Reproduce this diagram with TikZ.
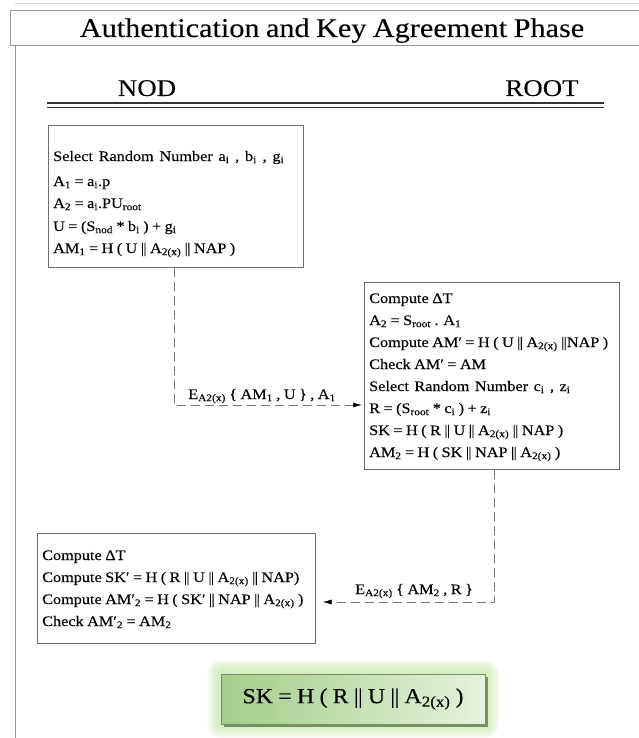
\documentclass[tikz,border=0pt]{standalone}
\usepackage{fontspec}
\setmainfont{Liberation Serif}[FakeStretch=1.12, FakeBold=0.12, WordSpace=0.85]
\usetikzlibrary{arrows.meta,backgrounds}
\newcommand\ssb[1]{\textsubscript{#1}}
\newcommand\dbar{|\kern-0.7pt|}
\definecolor{frameg}{RGB}{150,150,150}
\definecolor{boxg}{RGB}{110,110,110}
\definecolor{dashg}{RGB}{120,120,120}
\definecolor{gleft}{RGB}{164,206,136}
\definecolor{gright}{RGB}{230,241,222}
\definecolor{gedge}{RGB}{120,145,100}
\definecolor{glow}{RGB}{190,225,160}
\tikzset{
  frame/.style={draw=frameg, line width=0.7pt},
  stepbox/.style={draw=boxg, line width=0.7pt, fill=white, inner sep=0pt, anchor=north west},
  txt/.style={font=\fontsize{14.5}{16}\selectfont, inner sep=0pt, anchor=base west},
  lbl/.style={font=\fontsize{14.5}{16}\selectfont, inner sep=0pt, anchor=base},
  party/.style={font=\fontsize{24}{27}\selectfont, inner sep=0pt, anchor=base},
  msg/.style={draw=dashg, line width=0.7pt, dash pattern=on 9pt off 5pt},
  tipk/.style={-{Latex[color=black,length=9pt,width=5pt]}},
}
\begin{document}
\begin{tikzpicture}[x=1pt,y=-1pt]
\useasboundingbox (0,0) rectangle (639,738);
\clip (0,0) rectangle (639,738);
% frame
\draw[frame, draw=black!15] (15,3) -- (639,3);
\draw[frame] (15,45) -- (15,738);
\node[stepbox, draw=frameg, minimum width=640pt, minimum height=35pt] (tb) at (10,10) {};
\node[font=\fontsize{27}{30}\selectfont, inner sep=0pt, anchor=base] (title) at (332,37) {Authentication and Key Agreement Phase};
% parties
\node[party] (nodlbl) at (147,96) {NOD};
\node[party] (rootlbl) at (542,96) {ROOT};
\draw[line width=1.6pt, black!80] (47,103) coordinate (dl1) -- (604,103) coordinate (dl2);
\draw[line width=0.8pt, black!80] (47,107.5) coordinate (dl3) -- (604,107.5) coordinate (dl4);
% NOD box
\node[stepbox, minimum width=255pt, minimum height=142pt] (nod) at (48,125) {};
\node[txt] (n1) at (53,161) {\spaceskip=5.8pt plus 1pt Select Random Number a\ssb{i} , b\ssb{i} , g\ssb{i}};
\node[txt] (n2) at (53,186) {A\ssb{1} = a\ssb{i}.p};
\node[txt] (n3) at (53,208) {A\ssb{2} = a\ssb{i}.PU\ssb{root}};
\node[txt] (n4) at (53,231) {U = (S\ssb{nod} * b\ssb{i} ) + g\ssb{i}};
\node[txt] (n5) at (53,253) {AM\ssb{1} = H ( U \dbar{} A\ssb{2(x)} \dbar{} NAP )};
% ROOT box
\node[stepbox, minimum width=255pt, minimum height=187pt] (root) at (364,282) {};
\node[txt] (r1) at (369,303) {Compute ΔT};
\node[txt] (r2) at (369,325) {A\ssb{2} = S\ssb{root} . A\ssb{1}};
\node[txt] (r3) at (369,347) {Compute AM′ = H ( U \dbar{} A\ssb{2(x)} \dbar{}NAP )};
\node[txt] (r4) at (369,369) {Check AM′ = AM};
\node[txt] (r5) at (369,391) {\spaceskip=5.5pt plus 1pt Select Random Number c\ssb{i} , z\ssb{i}};
\node[txt] (r6) at (369,413) {R = (S\ssb{root} * c\ssb{i} ) + z\ssb{i}};
\node[txt] (r7) at (369,435) {SK = H ( R \dbar{} U \dbar{} A\ssb{2(x)} \dbar{} NAP )};
\node[txt] (r8) at (369,457) {AM\ssb{2} = H ( SK \dbar{} NAP \dbar{} A\ssb{2(x)} )};
% NOD verify box
\node[stepbox, minimum width=278pt, minimum height=110pt] (ver) at (37,533) {};
\node[txt] (v1) at (42,560) {Compute ΔT};
\node[txt] (v2) at (42,582) {Compute SK′ = H ( R \dbar{} U \dbar{} A\ssb{2(x)} \dbar{} NAP)};
\node[txt] (v3) at (42,604) {Compute AM′\ssb{2} = H ( SK′ \dbar{} NAP \dbar{} A\ssb{2(x)} )};
\node[txt] (v4) at (42,626) {Check AM′\ssb{2} = AM\ssb{2}};
% messages
\coordinate (c1) at (174,405);
\draw[msg, tipk] (nod.south -| c1) -- (c1) -- ([xshift=-2pt]root.west |- c1);
\node[lbl] (m1) at (262,399) {E\ssb{A2(x)} \{ AM\ssb{1} , U \} , A\ssb{1}};
\coordinate (c2) at (494,602);
\draw[msg, tipk] (root.south -| c2) -- (c2) -- ([xshift=7pt]ver.east |- c2);
\node[lbl] (m2) at (414,594) {E\ssb{A2(x)} \{ AM\ssb{2} , R \}};
% session key
\node[draw=gedge, line width=0.5pt, left color=gleft, right color=gright, minimum width=264pt, minimum height=50pt, inner sep=0pt, font=\fontsize{21.5}{24}\selectfont] (sk) at (353,699) {SK = H ( R \dbar{} U \dbar{} A\ssb{2(x)} )\hspace{14pt}};
\begin{scope}[on background layer]
\foreach \g in {13,10,7,4}
  \fill[glow, opacity=0.22, rounded corners=\g pt] ([shift={(-\g pt,-\g pt)}]sk.south west) rectangle ([shift={(\g pt,\g pt)}]sk.north east);
\fill[gedge] ([shift={(3pt,-3pt)}]sk.south west) rectangle ([shift={(3pt,-3pt)}]sk.north east);
\end{scope}
\end{tikzpicture}
\end{document}
